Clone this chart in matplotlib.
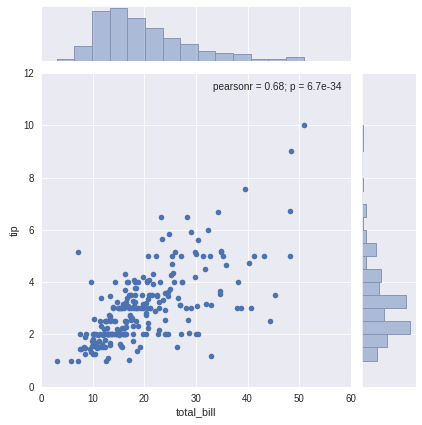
import matplotlib
matplotlib.use("Agg")
import matplotlib.pyplot as plt
import numpy as np
import seaborn as sns

total_bill = [
    16.99, 10.34, 21.01, 23.68, 24.59, 25.29, 8.77, 26.88, 15.04, 14.78,
    10.27, 35.26, 15.42, 18.43, 14.83, 21.58, 10.33, 16.29, 16.97, 20.65,
    17.92, 20.29, 15.77, 39.42, 19.82, 17.81, 13.37, 12.69, 21.70, 19.65,
    9.55, 18.35, 15.06, 20.69, 17.78, 24.06, 16.31, 16.93, 18.69, 31.27,
    16.04, 17.46, 13.94, 9.68, 30.40, 18.29, 22.23, 32.40, 28.55, 18.04,
    12.54, 10.29, 34.81, 9.94, 25.56, 19.49, 38.01, 26.41, 11.24, 48.27,
    20.29, 13.81, 11.02, 18.29, 17.59, 20.08, 16.45, 3.07, 20.23, 15.01,
    12.02, 17.07, 26.86, 25.28, 14.73, 10.51, 17.92, 27.20, 22.76, 17.29,
    19.44, 16.66, 10.07, 32.68, 15.98, 34.83, 13.03, 18.28, 24.71, 21.16,
    28.97, 22.49, 5.75, 16.32, 22.75, 40.17, 27.28, 12.03, 21.01, 12.46,
    11.35, 15.38, 44.30, 22.42, 20.92, 15.36, 20.49, 25.21, 18.24, 14.31,
    14.00, 7.25, 38.07, 23.95, 25.71, 17.31, 29.93, 10.65, 12.43, 24.08,
    11.69, 13.42, 14.26, 15.95, 12.48, 29.80, 8.52, 14.52, 11.38, 22.82,
    19.08, 20.27, 11.17, 12.26, 18.26, 8.51, 10.33, 14.15, 16.00, 13.16,
    17.47, 34.30, 41.19, 27.05, 16.43, 8.35, 18.64, 11.87, 9.78, 7.51,
    14.07, 13.13, 17.26, 24.55, 19.77, 29.85, 48.17, 25.00, 13.39, 16.49,
    21.50, 12.66, 16.21, 13.81, 17.51, 24.52, 20.76, 31.71, 10.59, 10.63,
    50.81, 15.81, 7.25, 31.85, 16.82, 32.90, 17.89, 14.48, 9.60, 34.63,
    34.65, 23.33, 45.35, 23.17, 40.55, 20.69, 20.90, 30.46, 18.15, 23.10,
    15.69, 19.81, 28.44, 15.48, 16.58, 7.56, 10.34, 43.11, 13.00, 13.51,
    18.71, 12.74, 13.00, 16.40, 20.53, 16.47, 26.59, 38.73, 24.27, 12.76,
    30.06, 25.89, 48.33, 13.27, 28.17, 12.90, 28.15, 11.59, 7.74, 30.14,
    12.16, 13.42, 8.58, 15.98, 13.42, 16.27, 10.09, 20.45, 13.28, 22.12,
    24.01, 15.69, 11.61, 10.77, 15.53, 10.07, 12.60, 32.83, 35.83, 29.03,
    27.18, 22.67, 17.82, 18.78,
]
tip = [
    1.01, 1.66, 3.50, 3.31, 3.61, 4.71, 2.00, 3.12, 1.96, 3.23,
    1.71, 5.00, 1.57, 3.00, 3.02, 3.92, 1.67, 3.71, 3.50, 3.35,
    4.08, 2.75, 2.23, 7.58, 3.18, 2.34, 2.00, 2.00, 4.30, 3.00,
    1.45, 2.50, 3.00, 2.45, 3.27, 3.60, 2.00, 3.07, 2.31, 5.00,
    2.24, 2.54, 3.06, 1.32, 5.60, 3.00, 5.00, 6.00, 2.05, 3.00,
    2.50, 2.60, 5.20, 1.56, 4.34, 3.51, 3.00, 1.50, 1.76, 6.73,
    3.21, 2.00, 1.98, 3.76, 2.64, 3.15, 2.47, 1.00, 2.01, 2.09,
    1.97, 3.00, 3.14, 5.00, 2.20, 1.25, 3.08, 4.00, 3.00, 2.71,
    3.00, 3.40, 1.83, 5.00, 2.03, 5.17, 2.00, 4.00, 5.85, 3.00,
    3.00, 3.50, 1.00, 4.30, 3.25, 4.73, 4.00, 1.50, 3.00, 1.50,
    2.50, 3.00, 2.50, 3.48, 4.08, 1.64, 4.06, 4.29, 3.76, 4.00,
    3.00, 1.00, 4.00, 2.55, 4.00, 3.50, 5.07, 1.50, 1.80, 2.92,
    2.31, 1.68, 2.50, 2.00, 2.52, 4.20, 1.48, 2.00, 2.00, 2.18,
    1.50, 2.83, 1.50, 2.00, 3.25, 1.25, 2.00, 2.00, 2.00, 2.75,
    3.50, 6.70, 5.00, 5.00, 2.30, 1.50, 1.36, 1.63, 1.73, 2.00,
    2.50, 2.00, 2.74, 2.00, 2.00, 5.14, 5.00, 3.75, 2.61, 2.00,
    3.50, 2.50, 2.00, 2.00, 3.00, 3.48, 2.24, 4.50, 1.61, 2.00,
    10.00, 3.16, 5.15, 3.18, 4.00, 3.11, 2.00, 2.00, 4.00, 3.55,
    3.68, 5.65, 3.50, 6.50, 3.00, 5.00, 3.50, 2.00, 3.50, 4.00,
    1.50, 4.19, 2.56, 2.02, 4.00, 1.44, 2.00, 5.00, 2.00, 2.00,
    4.00, 2.01, 2.00, 2.50, 4.00, 3.23, 3.41, 3.00, 2.03, 2.23,
    2.00, 5.16, 9.00, 2.50, 6.50, 1.10, 3.00, 1.50, 1.44, 3.09,
    2.20, 3.48, 1.92, 3.00, 1.58, 2.50, 2.00, 3.00, 2.72, 2.88,
    2.00, 3.00, 3.39, 1.47, 3.00, 1.25, 1.00, 1.17, 4.67, 5.92,
    2.00, 2.00, 1.75, 3.00,
]
stat_label = "pearsonr = 0.68; p = 6.7e-34"

sns.set_style("darkgrid")
plt.rcParams['font.family'] = ['Liberation Sans', 'DejaVu Sans']

x = np.array(total_bill)
y = np.array(tip)
color = "#4C72B0"
bar_face = (76 / 255, 114 / 255, 176 / 255, 0.4)
bar_edge = "#8795b3"

fig = plt.figure(figsize=(422 / 70, 425 / 70), dpi=70)
ax_joint = fig.add_axes([0.0972, 0.0901, 0.7346, 0.7381])
ax_top = fig.add_axes([0.0972, 0.8565, 0.7346, 0.1294], sharex=ax_joint)
ax_right = fig.add_axes([0.8578, 0.0901, 0.128, 0.7381], sharey=ax_joint)

ax_joint.scatter(x, y, s=33, color=color, linewidths=0)
ax_joint.set_xlabel("total_bill", fontsize=11)
ax_joint.set_ylabel("tip", fontsize=11)
ax_joint.tick_params(labelsize=10)
ax_joint.plot([], [], linestyle="none", label=stat_label)
ax_joint.legend(loc="upper right", frameon=False, handlelength=0,
                handletextpad=0, fontsize=10.4)

top_counts, _, _ = ax_top.hist(x, bins=14, facecolor=bar_face,
                               edgecolor=bar_edge, linewidth=1)
right_counts, _, _ = ax_right.hist(y, bins=18, facecolor=bar_face,
                                   edgecolor=bar_edge, linewidth=1,
                                   orientation="horizontal")
# count axes end at the next round number, as old matplotlib did
ax_top.set_ylim(0, np.ceil(top_counts.max() / 10) * 10)
ax_right.set_xlim(0, np.ceil(right_counts.max() / 10) * 10)
ax_joint.set_xlim(0, 60)
ax_joint.set_ylim(0, 12)

for ax in (ax_top, ax_right):
    ax.tick_params(length=0, labelbottom=False, labelleft=False)
ax_top.yaxis.grid(False)
ax_right.xaxis.grid(False)

fig.savefig("out.png", dpi=70)
